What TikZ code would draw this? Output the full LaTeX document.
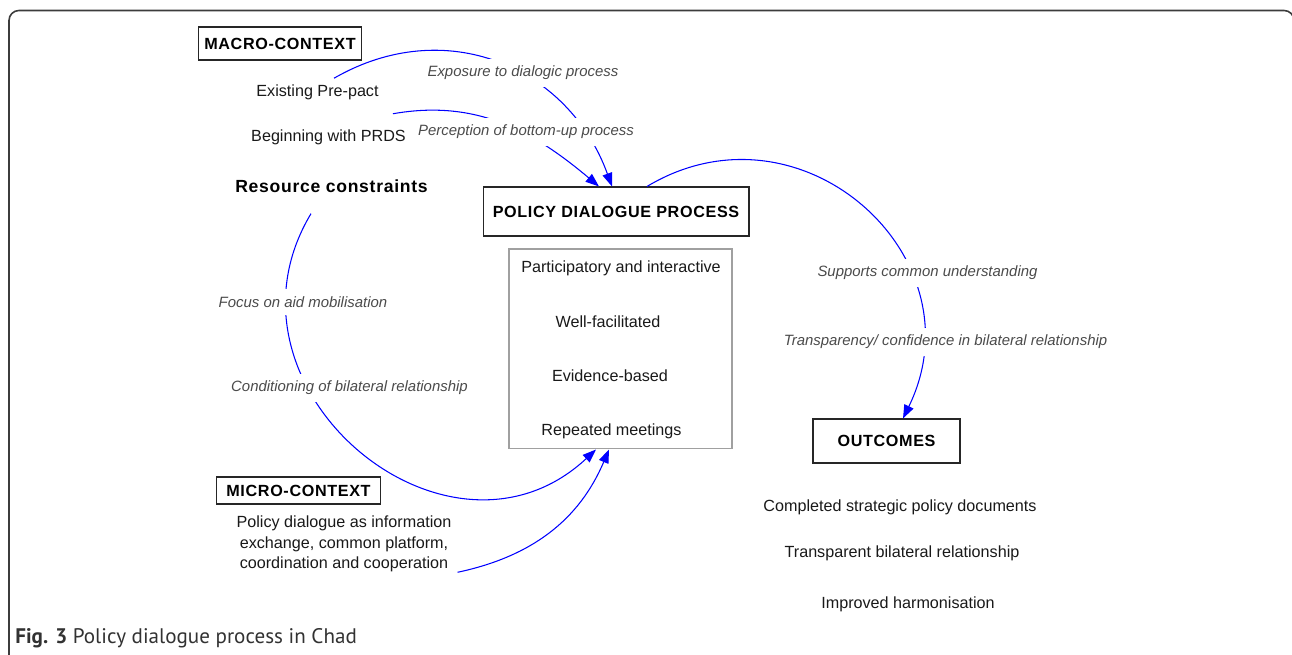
\documentclass[tikz,border=0pt]{standalone}
\usepackage{fontspec}
\setmainfont{Liberation Sans}
\newfontfamily\spacedfont[LetterSpace=4]{Liberation Sans}
\newfontfamily\captionfont{PT Sans}
\usetikzlibrary{arrows.meta, positioning}
\definecolor{arcblue}{RGB}{0,0,255}
\definecolor{labelgray}{RGB}{75,75,75}
\definecolor{framegray}{RGB}{60,60,60}
\definecolor{listgray}{RGB}{160,160,160}
\definecolor{captiongray}{RGB}{50,50,50}
\tikzstyle{ctxbox} = [rectangle, draw=black!85, line width=0.6pt, minimum width=3.27cm, text centered, font=\spacedfont\bfseries\fontsize{9.2}{11}\selectfont]
\tikzstyle{mainbox} = [rectangle, draw=black!85, line width=0.6pt, text centered, font=\spacedfont\bfseries\fontsize{9.2}{11}\selectfont]
\tikzstyle{listbox} = [rectangle, draw=listgray, line width=0.6pt]
\tikzstyle{plain} = [font=\fontsize{9.2}{11.7}\selectfont, text=black!90]
\tikzstyle{arclabel} = [font=\itshape\fontsize{8.5}{10}\selectfont, text=labelgray, fill=white, inner sep=4pt]
\tikzstyle{arc} = [draw=arcblue, line width=0.6pt, -{Triangle[length=0.27cm,width=0.2cm]}]

\begin{document}
\begin{tikzpicture}[x=0.02cm, y=0.02cm]
\useasboundingbox (0,0) rectangle (1292,655);

% Frame
\draw[framegray, line width=0.9pt, rounded corners=0.2cm] (9,-10) rectangle (1294,644.5);

% Macro context (top left)
\node[ctxbox, minimum height=0.66cm] (macro) at (280,611.5) {MACRO-CONTEXT};
\node[plain] (prepact) at (317.5,563) {Existing Pre-pact};
\node[plain] (prds) at (328.5,518) {Beginning with PRDS};
\node[font=\spacedfont\bfseries\fontsize{10}{12}\selectfont] (resource) at (331.5,469) {Resource constraints};

% Policy dialogue process
\node[mainbox, minimum width=5.32cm, minimum height=0.98cm] (pdp) at (616,443.5) {POLICY DIALOGUE PROCESS};
\node[listbox, minimum width=4.46cm, minimum height=4cm] (traits) at (620.5,306) {};
\node[plain] (trait1) at (621,387) {Participatory and interactive};
\node[plain] (trait2) at (608,333) {Well-facilitated};
\node[plain] (trait3) at (610,279) {Evidence-based};
\node[plain] (trait4) at (611.5,224) {Repeated meetings};

% Micro context (bottom left)
\node[ctxbox, minimum height=0.54cm] (micro) at (298.5,164.5) {MICRO-CONTEXT};
\node[plain, align=center] (microtext) at (344,111) {Policy dialogue as information\\exchange, common platform,\\coordination and cooperation};

% Outcomes
\node[mainbox, minimum width=2.94cm, minimum height=0.88cm] (outcomes) at (886.5,214) {OUTCOMES};
\node[plain] (result1) at (900,148) {Completed strategic policy documents};
\node[plain] (result2) at (902,102) {Transparent bilateral relationship};
\node[plain] (result3) at (908,51) {Improved harmonisation};

% Arcs
\draw[arc] ([xshift=0.33cm]prepact.north) to[out=30, in=110, looseness=1.1] ([xshift=-0.08cm]pdp.north);
\draw[arc] ([xshift=1.29cm, yshift=0.19cm]prds.north) to[out=10, in=140] ([xshift=-0.34cm]pdp.north);
\draw[arc] ([xshift=0.62cm]pdp.north) to[out=31, in=64, looseness=1.33] ([xshift=0.33cm]outcomes.north);
\draw[arc] ([xshift=-0.41cm, yshift=-0.3cm]resource.south) to[out=239, in=223, looseness=1.4] ([xshift=-0.49cm]traits.south);
\draw[arc] ([yshift=0.12cm]microtext.south east) to[out=12, in=247] ([xshift=-0.23cm]traits.south);

% Arc labels
\node[arclabel] (expo) at (523,582) {Exposure to dialogic process};
\node[arclabel] (perc) at (526,523) {Perception of bottom-up process};
\node[arclabel] (focus) at (303,353) {Focus on aid mobilisation};
\node[arclabel] (cond) at (349.5,267) {Conditioning of bilateral relationship};
\node[arclabel] (supports) at (927.5,382) {Supports common understanding};
\node[arclabel] (transp) at (945.5,313) {Transparency/ confidence in bilateral relationship};

% Caption
\node[anchor=west, inner sep=0pt, text=captiongray, font=\captionfont\fontsize{12}{14}\selectfont] (caption) at (15,17) {\textbf{Fig. 3} Policy dialogue process in Chad};

\end{tikzpicture}
\end{document}
